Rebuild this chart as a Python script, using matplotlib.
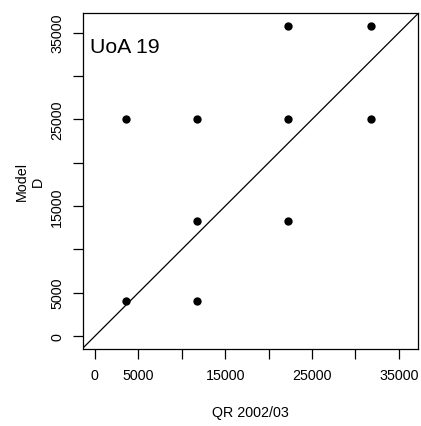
import matplotlib
matplotlib.use("Agg")
import matplotlib.pyplot as plt

plt.rcParams['font.family'] = ['Liberation Sans', 'DejaVu Sans']

qr = [3571, 11751, 22235, 31760, 22235, 31760, 11751, 22235, 3571, 11751]
model_d = [25000, 25000, 25000, 25000, 35795, 35795, 13250, 13250, 4032, 4032]
tick_vals = [0, 5000, 10000, 15000, 20000, 25000, 30000, 35000]
tick_labels = ["0", "5000", "", "15000", "", "25000", "", "35000"]

fig = plt.figure(figsize=(4.21, 4.27), dpi=100)
ax = fig.add_axes([82.5/421, 1 - 349.5/427, (418.3 - 82.5)/421, (349.5 - 14.3)/427])

ax.scatter(qr, model_d, s=36, color='black', zorder=3, linewidths=0)
ax.axline((0, 0), slope=1, color='black', lw=0.9)

ax.set_xlim(-1432, 37232)
ax.set_ylim(-1432, 37232)
ax.set_xticks(tick_vals)
ax.set_xticklabels(tick_labels)
ax.set_yticks(tick_vals)
ax.set_yticklabels(tick_labels, rotation=90, va='center')
ax.tick_params(direction='out', length=7.2, width=0.9, labelsize=10.3, pad=7)
ax.tick_params(axis='y', pad=6)
for s in ax.spines.values():
    s.set_linewidth(0.9)

ax.set_xlabel("QR 2002/03", fontsize=10.3, labelpad=16.5)
ax.set_ylabel("Model\nD", fontsize=10.3, labelpad=4, multialignment='center')
ax.text(0.022, 0.885, "UoA 19", transform=ax.transAxes, fontsize=15.3, ha='left', va='baseline')

fig.savefig("out.png", dpi=100)
